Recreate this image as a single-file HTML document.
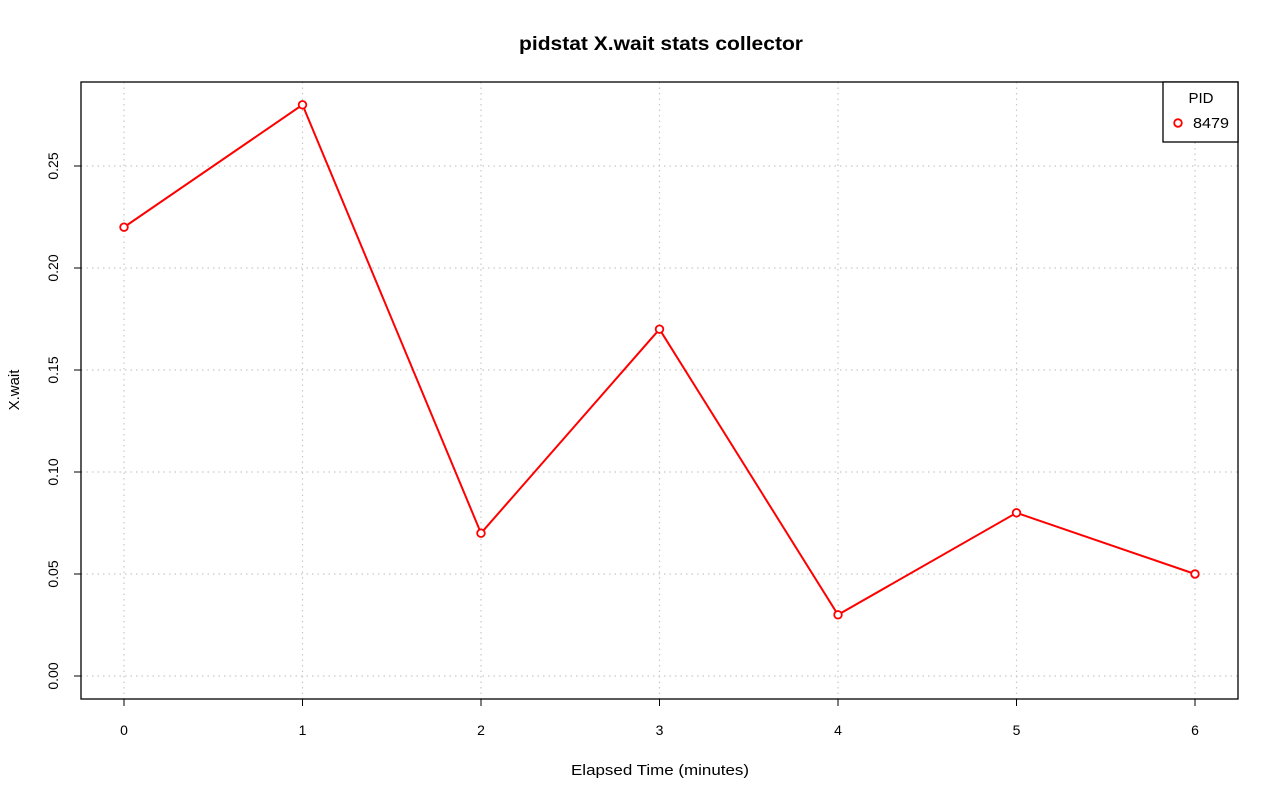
<!DOCTYPE html>
<html><head><meta charset="utf-8"><style>
html,body{margin:0;padding:0;background:#fff;}
svg text{font-family:"Liberation Sans",Arial,sans-serif;fill:#000;}
</style></head><body>
<svg id="chart" width="1280" height="801" viewBox="0 0 1280 801" xmlns="http://www.w3.org/2000/svg">
<rect width="1280" height="801" fill="#fff"/>
<text x="661" y="50" font-size="19" font-weight="bold" text-anchor="middle" textLength="284" lengthAdjust="spacingAndGlyphs">pidstat X.wait stats collector</text>
<g id="grid"></g>
<g id="axes"></g>
<g id="series"></g>
<rect x="81" y="82" width="1157" height="617" fill="none" stroke="#000" stroke-width="1.3"/>
<text x="660" y="775" font-size="15" text-anchor="middle" textLength="178" lengthAdjust="spacingAndGlyphs">Elapsed Time (minutes)</text>
<text x="19" y="390" font-size="15" text-anchor="middle" transform="rotate(-90 19 390)">X.wait</text>
<g>
<rect x="1163" y="82" width="75" height="60" fill="#fff" stroke="#000" stroke-width="1.3"/>
<text x="1201" y="103" font-size="15" text-anchor="middle">PID</text>
<circle cx="1178" cy="123" r="3.8" fill="#fff" stroke="#f00" stroke-width="1.8"/>
<text x="1193" y="128" font-size="15" textLength="36" lengthAdjust="spacingAndGlyphs">8479</text>
</g>
</svg>
<script>
const categories = [0, 1, 2, 3, 4, 5, 6];
const values = [0.22, 0.28, 0.07, 0.17, 0.03, 0.08, 0.05];
const yTicks = [0.00, 0.05, 0.10, 0.15, 0.20, 0.25];
const yTickLabels = ["0.00", "0.05", "0.10", "0.15", "0.20", "0.25"];
const xTickLabels = ["0", "1", "2", "3", "4", "5", "6"];

const NS = "http://www.w3.org/2000/svg";
function xs(v){ return 124 + v * 178.5; }
function ys(v){ return 676 - v * 2040; }
function mk(tag, attrs, parent){
  const e = document.createElementNS(NS, tag);
  for (const k in attrs) e.setAttribute(k, attrs[k]);
  parent.appendChild(e); return e;
}
const grid = document.getElementById('grid');
const axes = document.getElementById('axes');
const series = document.getElementById('series');

categories.forEach((c, i) => {
  const l = mk('line', {x1: xs(c), x2: xs(c), y1: 82, y2: 699, stroke: '#c8c8c8', 'stroke-dasharray': '1.5,4', 'stroke-width': 1.2}, grid);
  
  
  const t = mk('line', {x1: xs(c), x2: xs(c), y1: 699, y2: 706, stroke: '#000'}, axes);
  
  
  const tx = mk('text', {x: xs(c), y: 735, 'font-size': 14, 'text-anchor': 'middle'}, axes);
  tx.textContent = xTickLabels[i];
  
  
});
yTicks.forEach((v, i) => {
  const l = mk('line', {x1: 81, x2: 1238, y1: ys(v), y2: ys(v), stroke: '#c8c8c8', 'stroke-dasharray': '1.5,4', 'stroke-width': 1.2}, grid);
  
  
  const t = mk('line', {x1: 74, x2: 81, y1: ys(v), y2: ys(v), stroke: '#000'}, axes);
  
  
  const tx = mk('text', {x: 58, y: ys(v), 'font-size': 14, 'text-anchor': 'middle', transform: `rotate(-90 58 ${ys(v)})`}, axes);
  tx.textContent = yTickLabels[i];
  
  
});
const pts = categories.map((c, i) => xs(c) + ',' + ys(values[i])).join(' ');
const pl = mk('polyline', {points: pts, fill: 'none', stroke: '#f00', 'stroke-width': 2}, series);


categories.forEach((c, i) => {
  const p = mk('circle', {cx: xs(c), cy: ys(values[i]), r: 3.8, fill: '#fff', stroke: '#f00', 'stroke-width': 1.8}, series);
  
  
});
</script>
</body></html>
